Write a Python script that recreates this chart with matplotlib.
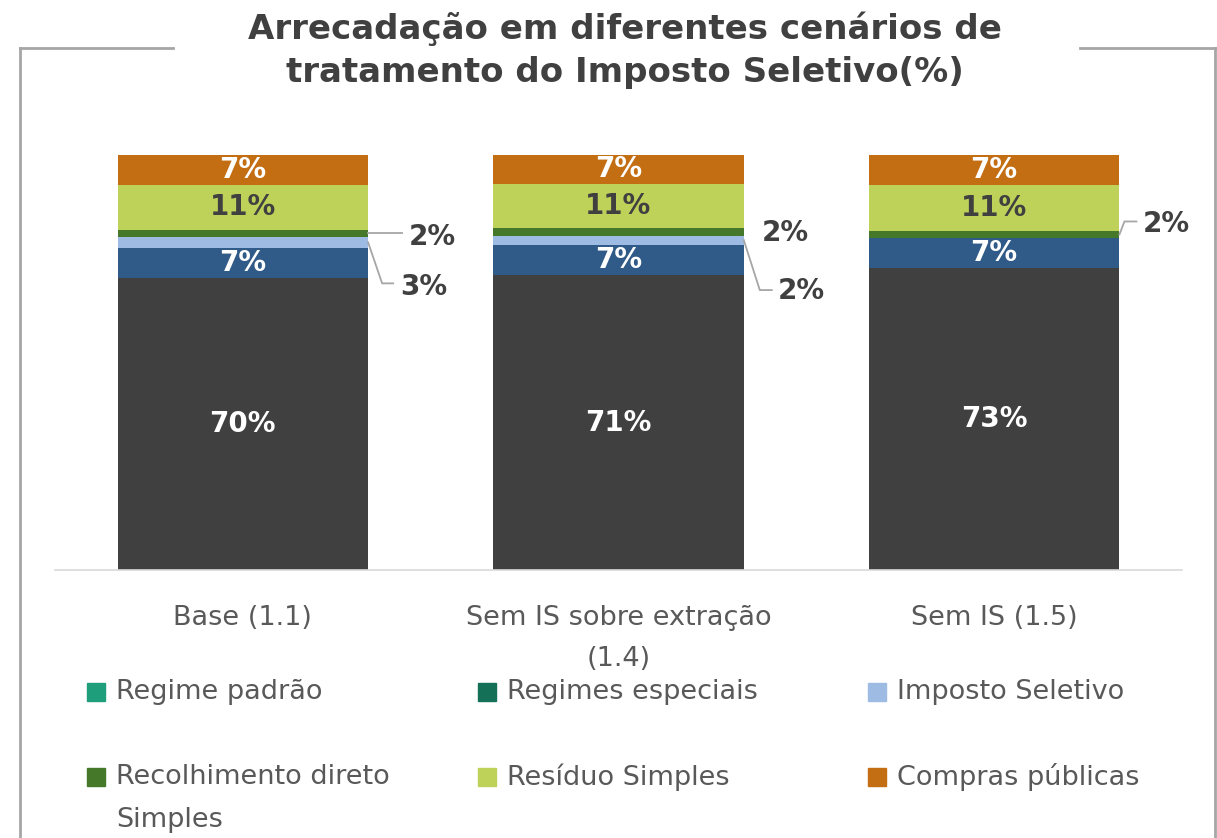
import matplotlib.pyplot as plt
from matplotlib.lines import Line2D
from matplotlib.patches import Rectangle
import numpy as np

# data
categories = ['Base (1.1)', 'Sem IS sobre extração\n(1.4)', 'Sem IS (1.5)']
regime_padrao = [70.4, 71.0, 72.7]
regimes_especiais = [7.2, 7.4, 7.4]
imposto_seletivo = [2.7, 2.2, 0.0]
recolhimento_simples = [1.7, 1.7, 1.5]
residuo_simples = [10.8, 10.8, 11.2]
compras_publicas = [7.2, 6.9, 7.2]

series = [regime_padrao, regimes_especiais, imposto_seletivo,
          recolhimento_simples, residuo_simples, compras_publicas]
bar_colors = ['#404040', '#305A87', '#9DBBE3', '#46782A', '#BED25A', '#C46E14']
label_colors = ['white', 'white', None, None, '#404040', 'white']

legend_labels = ['Regime padrão', 'Regimes especiais', 'Imposto Seletivo',
                 'Recolhimento direto\nSimples', 'Resíduo Simples', 'Compras públicas']
legend_colors = ['#1E9E7A', '#157058', '#9DBBE3', '#46782A', '#BED25A', '#C46E14']

# outside labels for the thin segments: (series index, bar index, label offset px, leader px)
outside = [
    (3, 0, (64, -4), [(0, 0), (34, 0)]),
    (2, 0, (56, -45), [(0, 0), (14, -41), (25, -41)]),
    (3, 1, (42, -1), []),
    (2, 1, (58, -51), [(0, 0), (16, -50), (28, -50)]),
    (3, 2, (47, 10), [(0, 0), (5, 13), (17, 13)]),
]

W, H = 1217, 838
FONT = 'DejaVu Sans'
fig = plt.figure(figsize=(W / 100, H / 100), dpi=100)
ax = fig.add_axes([55 / W, 1 - 570 / H, (1182 - 55) / W, (570 - 155) / H])

x = np.arange(len(categories))
width = 0.667
bottom = np.zeros(len(categories))
for vals, col, lcol in zip(series, bar_colors, label_colors):
    vals = np.array(vals)
    ax.bar(x, vals, width, bottom=bottom, color=col, linewidth=0)
    if lcol is not None:
        for xi, v, b in zip(x, vals, bottom):
            ax.text(xi, b + v / 2, f"{v:.0f}%", ha='center', va='center',
                    color=lcol, fontsize=20, fontweight='bold', family=FONT)
    bottom += vals

ax.set_xlim(-0.5, 2.5)
ax.set_ylim(0, 100)
for s in ['top', 'right', 'left']:
    ax.spines[s].set_visible(False)
ax.spines['bottom'].set_color('#D9D9D9')
ax.spines['bottom'].set_linewidth(1.2)
ax.set_yticks([])
ax.set_xticks(x)
ax.set_xticklabels(categories, fontsize=19.5, color='#595959', family=FONT,
                   linespacing=1.75)
ax.tick_params(axis='x', length=0, pad=25)

# outside labels with leader lines
fig.canvas.draw()
to_fig = fig.transFigure.inverted()
cum = np.cumsum([np.array(s) for s in series], axis=0)
for si, bi, (dx, dy), leader in outside:
    val = series[si][bi]
    mid = cum[si][bi] - val / 2
    anchor = ax.transData.transform((x[bi] + width / 2, mid))
    if leader:
        pts = to_fig.transform(anchor + np.array(leader, dtype=float))
        fig.add_artist(Line2D(pts[:, 0], pts[:, 1], color='#A6A6A6', lw=1.3))
    tx, ty = to_fig.transform(anchor + np.array([dx, dy]))
    fig.text(tx, ty, f"{val:.0f}%", ha='center', va='center', color='#404040',
             fontsize=20, fontweight='bold', family=FONT)

# title
fig.text(625 / W, 1 - 50 / H, 'Arrecadação em diferentes cenários de\ntratamento do Imposto Seletivo(%)',
         ha='center', va='center', fontsize=24.5, fontweight='bold', color='#404040',
         family=FONT, linespacing=1.4)

# frame around the chart, broken by the title
fc = '#A6A6A6'
fy = 1 - 48 / H
for xs, ys in [([20, 20], [fy, -0.01]), ([1215, 1215], [fy, -0.01])]:
    fig.add_artist(Line2D([v / W for v in xs], ys, color=fc, lw=2))
fig.add_artist(Line2D([20 / W, 173 / W], [fy, fy], color=fc, lw=2))
fig.add_artist(Line2D([1080 / W, 1215 / W], [fy, fy], color=fc, lw=2))

# legend, drawn by hand in a 3 x 2 grid
col_x = [87, 478, 868]
row_y = [692, 777]
for i, (lab, col) in enumerate(zip(legend_labels, legend_colors)):
    cx, cy = col_x[i % 3], row_y[i // 3]
    fig.add_artist(Rectangle((cx / W, 1 - (cy + 9) / H), 18 / W, 18 / H,
                             color=col, transform=fig.transFigure))
    for k, line in enumerate(lab.split('\n')):
        fig.text((cx + 29) / W, 1 - (cy + 43 * k) / H, line, ha='left', va='center',
                 fontsize=19.5, color='#595959', family=FONT)

fig.savefig('out.png', dpi=100)
